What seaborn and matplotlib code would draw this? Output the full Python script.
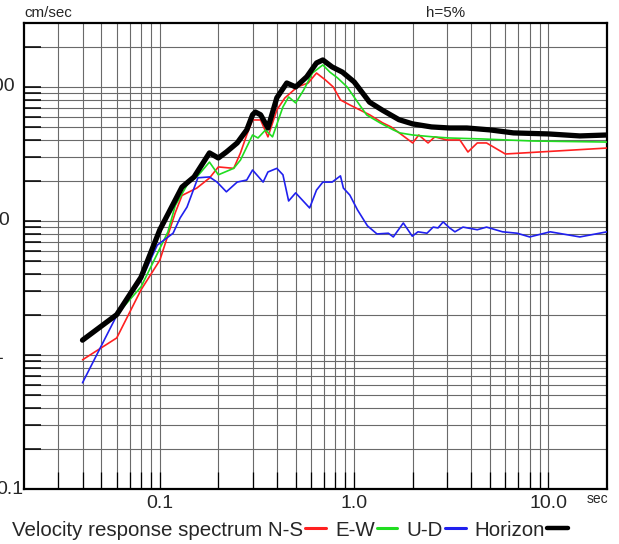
import matplotlib
matplotlib.use("Agg")
import matplotlib.pyplot as plt
import matplotlib.transforms as mtransforms
from matplotlib.lines import Line2D
from matplotlib.ticker import FixedLocator, NullFormatter
import pandas as pd
import seaborn as sns

# Velocity response spectra (h=5%), period in sec, velocity in cm/sec
ns_period = [0.04, 0.06, 0.08, 0.10, 0.12, 0.13, 0.155, 0.18, 0.20, 0.24, 0.26, 0.28,
             0.30, 0.33, 0.36, 0.40, 0.44, 0.51, 0.58, 0.64, 0.71, 0.78, 0.85, 0.95,
             1.2, 1.4, 1.55, 1.72, 2.0, 2.15, 2.4, 2.6, 3.0, 3.5, 3.85, 4.3, 4.8, 6.0, 20.0]
ns_vel = [0.92, 1.34, 3.06, 5.1, 11.5, 15.5, 17.6, 20.9, 25.3, 24.7, 32.2, 43.8,
          56.7, 56.7, 42.4, 67.3, 82.8, 100, 107, 127, 113, 100, 80, 73.4,
          62, 54, 50.3, 45, 38.2, 43.8, 38.2, 42.4, 40.2, 40.2, 32.7, 38.2, 38.2, 31.6, 35.0]

ew_period = [0.04, 0.06, 0.08, 0.092, 0.11, 0.12, 0.14, 0.155, 0.18, 0.20, 0.24, 0.26,
             0.30, 0.32, 0.35, 0.38, 0.43, 0.46, 0.50, 0.55, 0.61, 0.69, 0.75, 0.82,
             0.92, 1.04, 1.16, 1.36, 1.59, 1.72, 2.0, 2.55, 3.1, 4.6, 8.3, 20.0]
ew_vel = [1.29, 2.0, 3.22, 4.86, 8.28, 13.0, 19.2, 21.3, 27.5, 22.1, 24.7, 28.5,
          43.8, 41.6, 47.8, 42.4, 71, 84.2, 76, 95, 127, 146, 129, 117,
          100, 77.3, 61.8, 53.9, 47.8, 45.4, 43.8, 42.4, 41.6, 40.9, 39.5, 38.8]

ud_period = [0.04, 0.06, 0.08, 0.097, 0.117, 0.127, 0.138, 0.157, 0.18, 0.197, 0.22,
             0.25, 0.28, 0.30, 0.34, 0.36, 0.40, 0.43, 0.46, 0.50, 0.59, 0.64, 0.69,
             0.77, 0.85, 0.88, 0.95, 1.04, 1.17, 1.31, 1.5, 1.59, 1.79, 1.99, 2.13,
             2.37, 2.55, 2.7, 2.87, 3.1, 3.3, 3.63, 4.3, 4.8, 5.8, 6.9, 8.0, 10.2,
             14.5, 20.0]
ud_vel = [0.62, 1.97, 3.6, 6.6, 8.1, 10.5, 12.7, 21.0, 21.3, 19.5, 16.5,
          19.5, 20.2, 24.0, 19.5, 23.2, 24.7, 22.1, 14.1, 16.2, 12.5, 17.0, 19.5,
          19.5, 21.7, 17.6, 15.6, 12.1, 9.2, 8.0, 8.1, 7.6, 9.66, 7.7, 8.3,
          8.1, 9.0, 8.87, 9.84, 8.87, 8.3, 9.0, 8.6, 9.0, 8.3, 8.1, 7.6, 8.3,
          7.6, 8.3]

hz_period = [0.04, 0.06, 0.08, 0.10, 0.13, 0.15, 0.18, 0.20, 0.22, 0.25, 0.28, 0.30,
             0.31, 0.33, 0.36, 0.40, 0.45, 0.50, 0.57, 0.64, 0.69, 0.77, 0.87, 1.0,
             1.2, 1.4, 1.7, 2.0, 2.5, 3.1, 3.8, 5.0, 6.6, 10.0, 14.5, 20.0]
hz_vel = [1.29, 2.0, 3.8, 8.6, 17.9, 21.3, 32.2, 29.5, 32.7, 38.2, 47.8, 62,
          65, 62, 49.4, 83, 107, 100, 119, 151, 159, 141, 129, 109,
          77, 67, 57, 53, 50.3, 49.4, 49.4, 47.8, 45.4, 44.6, 43.1, 43.8]

components = ["N-S", "E-W", "U-D", "Horizon"]
colors = {"N-S": "#ff2020", "E-W": "#20dd20", "U-D": "#2020ee", "Horizon": "#000000"}
widths = {"N-S": 1.2, "E-W": 1.2, "U-D": 1.2, "Horizon": 3.8}

df = pd.concat([
    pd.DataFrame({"period": ns_period, "velocity": ns_vel, "component": "N-S"}),
    pd.DataFrame({"period": ew_period, "velocity": ew_vel, "component": "E-W"}),
    pd.DataFrame({"period": ud_period, "velocity": ud_vel, "component": "U-D"}),
    pd.DataFrame({"period": hz_period, "velocity": hz_vel, "component": "Horizon"}),
], ignore_index=True)

sns.set_style("white")
plt.rcParams["font.family"] = ["Liberation Sans", "DejaVu Sans"]

fig = plt.figure(figsize=(6.19, 5.44), dpi=100)
ax = fig.add_axes([24 / 619, 55 / 544, 583 / 619, 466 / 544])

for i, comp in enumerate(components):
    sub = df[df["component"] == comp]
    sns.lineplot(data=sub, x="period", y="velocity", color=colors[comp],
                 linewidth=widths[comp], estimator=None, sort=False, ax=ax,
                 zorder=3 + i)

ax.set_xscale("log")
ax.set_yscale("log")
ax.set_xlim(0.02, 20)
ax.set_ylim(0.1, 300)
ax.set_xlabel("")
ax.set_ylabel("")

# x ticks: labelled decades, unlabelled intermediate periods
x_minor = [0.03, 0.04, 0.05, 0.06, 0.07, 0.08, 0.09,
           0.2, 0.3, 0.4, 0.5, 0.6, 0.7, 0.8, 0.9,
           2, 3, 4, 5, 6, 7, 8, 9]
ax.xaxis.set_major_locator(FixedLocator([0.1, 1, 10]))
ax.xaxis.set_minor_locator(FixedLocator(x_minor))
ax.set_xticklabels(["0.1", "1.0", "10.0"])
ax.xaxis.set_minor_formatter(NullFormatter())

y_minor = [0.2, 0.3, 0.4, 0.5, 0.6, 0.7, 0.8, 0.9,
           2, 3, 4, 5, 6, 7, 8, 9,
           20, 30, 40, 50, 60, 70, 80, 90, 200]
ax.yaxis.set_major_locator(FixedLocator([1, 10, 100]))
ax.yaxis.set_minor_locator(FixedLocator(y_minor))
ax.yaxis.set_major_formatter(NullFormatter())
ax.yaxis.set_minor_formatter(NullFormatter())

ax.tick_params(axis="x", which="both", direction="in", length=12, width=0.9,
               color="black", bottom=True, top=False, labelsize=14, pad=4)
ax.tick_params(axis="y", which="both", direction="in", length=12, width=1.1,
               color="black", left=True, right=False)

ax.grid(which="both", axis="both", color="#6a6a6a", linestyle="-",
        linewidth=0.8)
ax.set_axisbelow(True)

for sp in ax.spines.values():
    sp.set_visible(True)
    sp.set_color("black")
    sp.set_linewidth(1.6)

# y labels, partly cut by the left figure edge
trans = mtransforms.blended_transform_factory(ax.transAxes, ax.transData)
for val, txt, xa in [(100, "100", -0.0154), (10, "10", -0.024),
                     (1, "1", -0.036), (0.1, "0.1", -0.0017)]:
    ax.text(xa, val, txt, transform=trans, ha="right", va="center",
            fontsize=14, clip_on=False)

fig.text(24 / 619, 1 - 17 / 544, "cm/sec", fontsize=10.9, ha="left", va="baseline")
fig.text(426 / 619, 1 - 17 / 544, "h=5%", fontsize=10.9, ha="left", va="baseline")
fig.text(587 / 619, 1 - 503 / 544, "sec", fontsize=10, ha="left", va="baseline")

handles = [Line2D([], [], color=colors[c], linewidth=(2.2 if c != "Horizon" else 3.2))
           for c in components]
labels = ["Velocity response spectrum N-S", "E-W", "U-D", "Horizon"]
fig.legend(handles, labels, loc="center left", bbox_to_anchor=(12 / 619, 14 / 544),
           ncol=4, markerfirst=False, frameon=False, fontsize=14.8,
           handlelength=1.0, handletextpad=0.1, columnspacing=0.45,
           borderpad=0, borderaxespad=0)

fig.savefig("out.png", dpi=100)
